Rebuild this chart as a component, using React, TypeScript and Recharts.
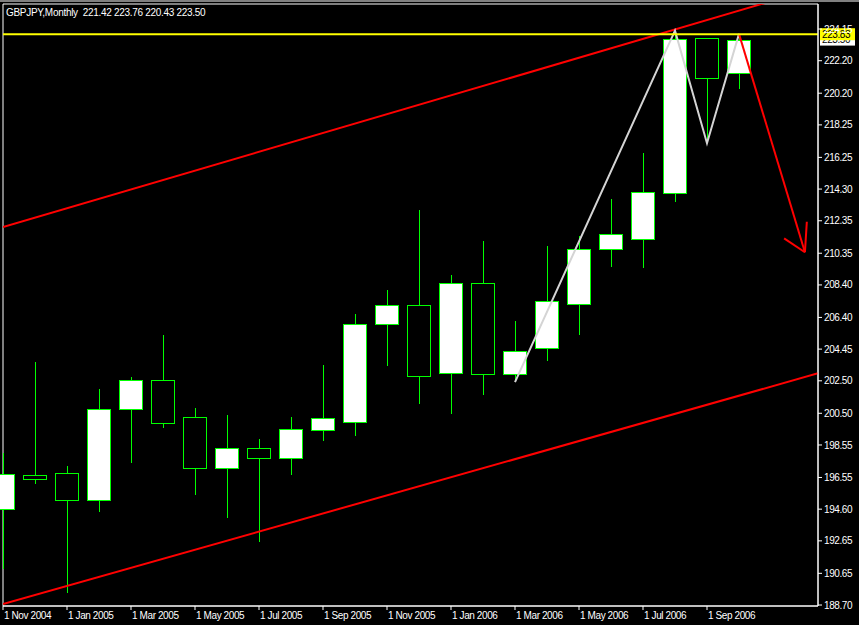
import React from 'react';
import {
  ComposedChart,
  Bar,
  Line,
  XAxis,
  YAxis,
  ReferenceLine,
  ReferenceArea,
} from 'recharts';

const months = [
  'Nov 2004', 'Dec 2004', 'Jan 2005', 'Feb 2005', 'Mar 2005', 'Apr 2005',
  'May 2005', 'Jun 2005', 'Jul 2005', 'Aug 2005', 'Sep 2005', 'Oct 2005',
  'Nov 2005', 'Dec 2005', 'Jan 2006', 'Feb 2006', 'Mar 2006', 'Apr 2006',
  'May 2006', 'Jun 2006', 'Jul 2006', 'Aug 2006', 'Sep 2006', 'Oct 2006',
];
const opens = [
  194.59, 196.68, 196.81, 195.14, 200.74, 202.53, 200.25, 197.11, 198.34, 197.73, 199.45, 199.94,
  205.98, 207.14, 202.96, 208.5, 202.9, 204.5, 207.21, 210.59, 211.21, 214.07, 223.58, 221.42,
];
const highs = [
  198.04, 203.64, 197.25, 201.99, 202.71, 205.32, 200.81, 200.39, 198.92, 200.27, 203.47, 206.61,
  208.09, 213.01, 208.99, 211.1, 206.18, 210.79, 211.41, 213.69, 216.52, 224.05, 223.62, 223.76,
];
const lows = [
  190.9, 196.17, 189.46, 194.44, 197.46, 199.61, 195.49, 194.07, 192.6, 196.72, 198.81, 199.12,
  203.43, 201.09, 200.47, 201.64, 202.45, 203.74, 205.34, 209.52, 209.46, 213.52, 217.12, 220.43,
];
const closes = [
  196.74, 196.44, 195.14, 200.74, 202.53, 199.88, 197.11, 198.34, 197.73, 199.51, 200.19, 205.98,
  207.14, 202.81, 208.5, 202.9, 204.31, 207.43, 210.59, 211.51, 214.1, 223.52, 221.12, 223.5,
];

const xTicks = [0, 2, 4, 6, 8, 10, 12, 14, 16, 18, 20, 22];
const yTicks = [
  224.15, 222.2, 220.2, 218.25, 216.25, 214.3, 212.35, 210.35, 208.4, 206.4,
  204.45, 202.5, 200.5, 198.55, 196.55, 194.6, 192.65, 190.65, 188.7,
];

// objects drawn on the chart (bar index, price)
const zigzag = [
  { idx: 16, v: 202.42 },
  { idx: 21, v: 224.05 },
  { idx: 22, v: 217.12 },
  { idx: 23, v: 223.85 },
];
const channelUpper = [{ x: 0, y: 211.96 }, { x: 25.47, y: 226.71 }];
const channelLower = [{ x: 0, y: 188.76 }, { x: 25.47, y: 202.96 }];
const arrowShaft = [{ x: 23, y: 223.85 }, { x: 25.06, y: 210.41 }];
const arrowHeadL = [{ x: 24.41, y: 211.27 }, { x: 25.06, y: 210.41 }];
const arrowHeadR = [{ x: 25.12, y: 212.29 }, { x: 25.06, y: 210.41 }];
const levelLine = 223.83;
const bidPrice = 223.5;

const X_DOMAIN: [number, number] = [0, 815 / 32];
const Y_DOMAIN: [number, number] = [188.64, 225.69];

const candles = months.map((m, i) => ({
  idx: i,
  month: m,
  open: opens[i],
  high: highs[i],
  low: lows[i],
  close: closes[i],
}));

const FONT = '"Liberation Sans", Arial, sans-serif';
const GREEN = '#00ff00';

const Candle = (props: any) => {
  const { x, y, width, height, payload } = props;
  if (x == null || y == null) return null;
  const top = Math.min(y, y + height);
  const bot = Math.max(y, y + height);
  const span = payload.high - payload.low || 1;
  const toPx = (v: number) => top + ((payload.high - v) / span) * (bot - top);
  const cx = Math.floor(x + width / 2);
  const bull = payload.close >= payload.open;
  const bTop = Math.round(toPx(Math.max(payload.open, payload.close)));
  const bBot = Math.round(toPx(Math.min(payload.open, payload.close)));
  return (
    <g shapeRendering="crispEdges">
      <line x1={cx + 0.5} x2={cx + 0.5} y1={Math.round(top)} y2={Math.round(bot)} stroke={GREEN} strokeWidth={1} />
      <rect
        x={cx - 11.5}
        y={bTop + 0.5}
        width={23}
        height={Math.max(bBot - bTop, 1)}
        fill={bull ? '#ffffff' : '#000000'}
        stroke={GREEN}
        strokeWidth={1}
      />
    </g>
  );
};

const XTick = (props: any) => {
  const { x, y, payload } = props;
  return (
    <text x={x + 1} y={y} dy="0.72em" fill="#fff" fontSize={10} fontFamily={FONT} letterSpacing={-0.4} textAnchor="start">
      {`1 ${months[payload.value]}`}
    </text>
  );
};

const PriceTag = (bg: string, text: string) => (props: any) => {
  const vb = props.viewBox || {};
  const right = (vb.x || 0) + (vb.width || 0);
  const cy = vb.y || 0;
  return (
    <g>
      <rect x={right + 2} y={cy - 6} width={35} height={12} fill={bg} />
      <text x={right + 4} y={cy} dy="0.36em" fill="#000" fontSize={10} fontFamily={FONT} letterSpacing={-0.4}>
        {text}
      </text>
    </g>
  );
};

export default function App() {
  return (
    <div style={{ position: 'absolute', left: 0, top: 0, width: 859, height: 625, background: '#000' }}>
      <div style={{ position: 'absolute', left: 0, top: 0, width: 859, height: 2, background: '#808080' }} />
      <ComposedChart
        width={859}
        height={625}
        data={candles}
        margin={{ top: 4, right: 0, bottom: 0, left: 3 }}
      >
        <XAxis
          dataKey="idx"
          type="number"
          domain={X_DOMAIN}
          ticks={xTicks}
          interval={0}
          height={19}
          tickSize={4}
          tickMargin={2}
          stroke="#fff"
          tick={<XTick />}
        />
        <YAxis
          orientation="right"
          type="number"
          domain={Y_DOMAIN}
          allowDataOverflow
          ticks={yTicks}
          interval={0}
          width={41}
          tickSize={4}
          tickMargin={2}
          stroke="#fff"
          tick={{ fill: '#fff', fontSize: 10, fontFamily: FONT, letterSpacing: -0.4 }}
          tickFormatter={(v: number) => v.toFixed(2)}
        />
        <ReferenceArea
          x1={X_DOMAIN[0]}
          x2={X_DOMAIN[1]}
          y1={Y_DOMAIN[0]}
          y2={Y_DOMAIN[1]}
          fill="none"
          stroke="#fff"
          strokeWidth={1}
          ifOverflow="visible"
        />
        <Bar
          dataKey={(d: any) => [d.low, d.high]}
          barSize={24}
          shape={<Candle />}
          isAnimationActive={false}
        />
        <ReferenceLine segment={channelUpper} stroke="#ff0000" strokeWidth={2} ifOverflow="hidden" />
        <ReferenceLine segment={channelLower} stroke="#ff0000" strokeWidth={2} ifOverflow="hidden" />
        <Line
          data={zigzag}
          dataKey="v"
          type="linear"
          stroke="#d4d4d4"
          strokeWidth={2}
          dot={false}
          activeDot={false}
          isAnimationActive={false}
        />
        <ReferenceLine segment={arrowShaft} stroke="#ff0000" strokeWidth={2} ifOverflow="visible" />
        <ReferenceLine segment={arrowHeadL} stroke="#ff0000" strokeWidth={2} ifOverflow="visible" />
        <ReferenceLine segment={arrowHeadR} stroke="#ff0000" strokeWidth={2} ifOverflow="visible" />
        <ReferenceLine y={bidPrice} stroke="none" ifOverflow="visible" label={PriceTag('#ffffff', bidPrice.toFixed(2))} />
        <ReferenceLine
          y={levelLine}
          stroke="#ffff00"
          strokeWidth={2}
          ifOverflow="visible"
          label={PriceTag('#ffff00', levelLine.toFixed(2))}
        />
      </ComposedChart>
      <div
        style={{
          position: 'absolute',
          left: 6,
          top: 7,
          color: '#fff',
          fontSize: 10,
          lineHeight: '12px',
          fontFamily: FONT,
          letterSpacing: -0.3,
          whiteSpace: 'pre',
        }}
      >
        {'GBPJPY,Monthly  221.42 223.76 220.43 223.50'}
      </div>
    </div>
  );
}
